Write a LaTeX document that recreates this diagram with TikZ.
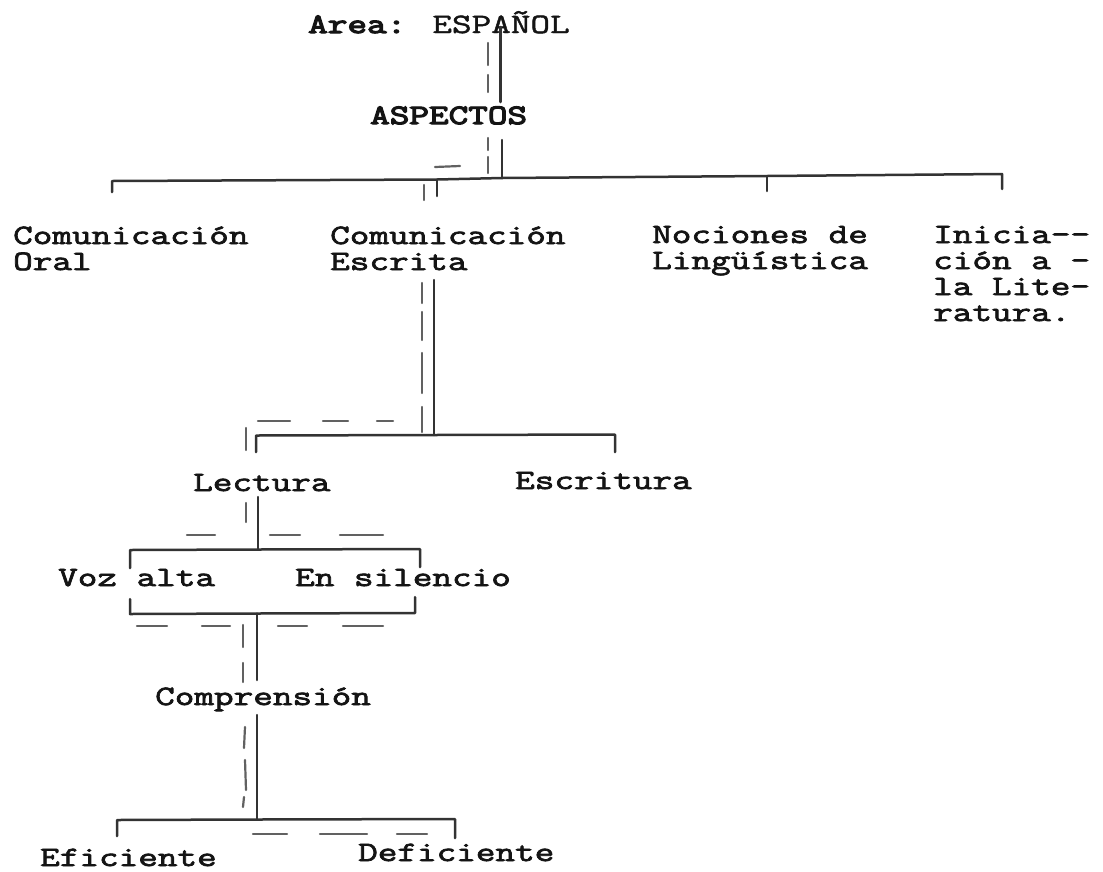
\documentclass[tikz,border=0pt]{standalone}
\usepackage{fontspec}
\newfontfamily\tw{Latin Modern Mono}[FakeStretch=1.36,FakeBold=2.6]
\newfontfamily\twl{Latin Modern Mono}[FakeStretch=1.36,FakeBold=1.6]
\newfontfamily\twb{Latin Modern Mono}[FakeStretch=1.36,FakeBold=4.5]
\begin{document}
\begin{tikzpicture}[x=1pt,y=-1pt,
  lbl/.style={font=\tw\fontsize{28}{26}\selectfont, text=black!92, inner sep=0pt, anchor=base west, align=left},
  tree/.style={line width=2.5pt, draw=black!80, line cap=round, line join=round},
  trace/.style={line width=2.2pt, draw=black!62, line cap=round}]
\fill[white] (0,0) rectangle (1103,871);
\useasboundingbox (0,0) rectangle (1103,871);

% ---------- nodes (base = baseline of the last line) ----------
\node[lbl] (area) at (308,33)  {{\twb Area:} {\twl ESPAÑOL}};
\node[lbl] (asp)  at (370,124) {\twb ASPECTOS};
\node[lbl] (co)   at (13,270)  {Comunicación\\Oral};
\node[lbl] (ce)   at (330,270) {Comunicación\\Escrita};
\node[lbl] (nl)   at (652,269) {Nociones de\\Lingüística};
\node[lbl] (il)   at (933,321) {Inicia-{}-\\ción a -\\la Lite-\\ratura.};
\node[lbl] (lec)  at (193,491) {Lectura};
\node[lbl] (esc)  at (515,489) {Escritura};
\node[lbl] (voz)  at (58,586)  {Voz alta};
\node[lbl] (sil)  at (295,586) {En silencio};
\node[lbl] (comp) at (155,705) {Comprensión};
\node[lbl] (efi)  at (40,866)  {Eficiente};
\node[lbl] (def)  at (358,861) {Deficiente};

% ---------- junction coordinates ----------
\coordinate (aTop) at (500.5,27);
\coordinate (aBot) at (500.5,102);
\coordinate (sTop) at (502,140);
\coordinate (bM)   at (502,178);
\coordinate (b1)   at (112,181);
\coordinate (b2)   at (437,179.5);
\coordinate (b3)   at (767,176);
\coordinate (b4)   at (1002,174);
\coordinate (eTop) at (434,280);
\coordinate (eBar) at (434,435);
\coordinate (lTop) at (258,497);
\coordinate (lBar) at (258,549.5);
\coordinate (vBar) at (257,613.5);
\coordinate (cTop) at (257,680);
\coordinate (cBot) at (257,715);
\coordinate (dBar) at (257,819.5);

% ---------- solid tree ----------
\draw[tree] (aTop) -- (aBot);
\draw[tree] (sTop) -- (bM);
\draw[tree] (112,192) -- (b1) -- (b2) -- (bM) -- (b3) -- (b4) -- (1002,189);
\draw[tree] (b2) -- (437,196);
\draw[tree] (b3) -- (767,191);

\draw[tree] (eTop) -- (eBar);
\draw[tree] (256,452) -- (256,435.5) -- (eBar) -- (615,434.5) -- (615,452);

\draw[tree] (lTop) -- (lBar);
\draw[tree] (130,568) -- (130,550) -- (lBar) -- (420,549) -- (420,567);
\draw[tree] (130,599) -- (130,614) -- (vBar) -- (415,613) -- (415,597);
\draw[tree] (vBar) -- (cTop);
\draw[tree] (cBot) -- (dBar);
\draw[tree] (117,836) -- (117,820) -- (dBar) -- (455,819) -- (455,838);

% ---------- dashed tracing ----------
\draw[trace] (488,43) -- (488,65) (488,75) -- (488,92);
\draw[trace] (488,138) -- (488,150) (488,157) -- (488,173);
\draw[trace] (435,167) -- (460,166);
\draw[trace] (424,185) -- (424,200);
\draw[trace] (422,283) -- (422,303) (422,312) -- (422,340) (422,353) -- (422,393) (422,407) -- (422,432);
\draw[trace] (258,421) -- (290,421) (323,421) -- (348,421) (377,421) -- (393,421);
\draw[trace] (246,428) -- (246,450);
\draw[trace] (246,503) -- (246,522);
\draw[trace] (187,535) -- (215,535) (270,535) -- (300,535) (340,535) -- (383,535);
\draw[trace] (137,626) -- (167,626) (202,626) -- (230,626) (278,626) -- (307,626) (343,626) -- (383,626);
\draw[trace] (243,625) -- (243,647) (243,663) -- (243,682);
\draw[trace] (245,727) -- (244,748) (245,760) -- (246,790) (244,797) -- (243,807);
\draw[trace] (253,834) -- (287,834) (320,834) -- (367,834) (397,834) -- (427,834);
\end{tikzpicture}
\end{document}
